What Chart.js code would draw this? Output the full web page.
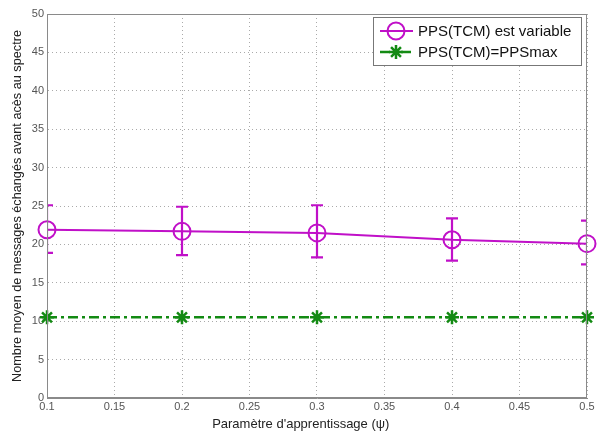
<!DOCTYPE html>
<html lang="fr">
<head>
<meta charset="UTF-8">
<title>Nombre moyen de messages</title>
<script src="https://cdn.jsdelivr.net/npm/chart.js@4.4.1/dist/chart.umd.min.js"></script>
<style>
  body { margin: 0; background: #fff; }
</style>
</head>
<body>
<canvas id="c" width="598" height="444"></canvas>
<script>
// données
const psi = [0.1, 0.2, 0.3, 0.4, 0.5];
const ppsVariable = [21.9, 21.7, 21.5, 20.6, 20.1];
const errHaut = [25.1, 24.9, 25.1, 23.4, 23.1];
const errBas = [18.9, 18.6, 18.3, 17.9, 17.4];
const ppsMax = [10.5, 10.5, 10.5, 10.5, 10.5];
const ticksX = [0.1, 0.15, 0.2, 0.25, 0.3, 0.35, 0.4, 0.45, 0.5];
const ticksY = [0, 5, 10, 15, 20, 25, 30, 35, 40, 45, 50];
const legendes = ['PPS(TCM) est variable', 'PPS(TCM)=PPSmax'];

const violet = '#c010c8';
const vert = '#138a13';
const tiretPoint = [10, 4, 3, 4];
const police = '"Liberation Sans", Arial, sans-serif';

// barres d'erreur, dessinées avec les échelles du graphique
const errorBars = {
  id: 'errorBars',
  beforeDatasetsDraw(chart) {
    const ctx = chart.ctx, xs = chart.scales.x, ys = chart.scales.y, a = chart.chartArea;
    ctx.save();
    ctx.beginPath();
    ctx.rect(a.left, a.top, a.right - a.left, a.bottom - a.top);
    ctx.clip();
    ctx.strokeStyle = violet;
    ctx.lineWidth = 2.2;
    psi.forEach((v, i) => {
      const x = xs.getPixelForValue(v);
      const yh = ys.getPixelForValue(errHaut[i]);
      const yb = ys.getPixelForValue(errBas[i]);
      ctx.beginPath();
      ctx.moveTo(x, yh); ctx.lineTo(x, yb);
      ctx.moveTo(x - 6, yh); ctx.lineTo(x + 6, yh);
      ctx.moveTo(x - 6, yb); ctx.lineTo(x + 6, yb);
      ctx.stroke();
    });
    ctx.restore();
  }
};

// cadre (haut et droite) + légende façon matlab
const cadre = {
  id: 'cadre',
  afterDraw(chart) {
    const ctx = chart.ctx, a = chart.chartArea;
    ctx.save();
    ctx.strokeStyle = '#8a8a8a';
    ctx.lineWidth = 1;
    ctx.strokeRect(a.left + 0.5, a.top + 0.5, a.right - a.left - 1, a.bottom - a.top - 1);

    // légende
    const lx = 373, ly = 17, lw = 208, lh = 48;
    ctx.fillStyle = '#fff';
    ctx.fillRect(lx, ly, lw, lh);
    ctx.strokeStyle = '#777';
    ctx.strokeRect(lx + 0.5, ly + 0.5, lw, lh);

    const ds = chart.data.datasets;
    [0, 1].forEach(i => {
      const y = ly + 14 + i * 21;
      ctx.save();
      ctx.strokeStyle = ds[i].borderColor;
      ctx.lineWidth = ds[i].borderWidth;
      ctx.setLineDash(ds[i].borderDash || []);
      ctx.beginPath();
      ctx.moveTo(lx + 7, y); ctx.lineTo(lx + 40, y);
      ctx.stroke();
      ctx.setLineDash([]);
      ctx.lineWidth = ds[i].pointBorderWidth;
      ctx.fillStyle = ds[i].pointBackgroundColor;
      Chart.helpers.drawPoint(ctx, {
        pointStyle: ds[i].pointStyle,
        radius: ds[i].pointRadius,
        borderWidth: ds[i].pointBorderWidth,
        rotation: 0
      }, lx + 23, y);
      ctx.restore();
      ctx.fillStyle = '#111';
      ctx.font = '15px ' + police;
      ctx.textBaseline = 'middle';
      ctx.fillText(legendes[i], lx + 45, y + 1);
    });
    ctx.restore();
  }
};

new Chart(document.getElementById('c'), {
  type: 'line',
  data: {
    datasets: [
      {
        label: legendes[0],
        data: psi.map((x, i) => ({ x: x, y: ppsVariable[i] })),
        borderColor: violet,
        borderWidth: 2,
        pointStyle: 'circle',
        pointRadius: 8.5,
        pointBorderWidth: 2,
        pointBorderColor: violet,
        pointBackgroundColor: 'rgba(0,0,0,0)',
        clip: false
      },
      {
        label: legendes[1],
        data: psi.map((x, i) => ({ x: x, y: ppsMax[i] })),
        borderColor: vert,
        borderWidth: 2.5,
        borderDash: tiretPoint,
        pointStyle: 'star',
        pointRadius: 7,
        pointBorderWidth: 2.5,
        pointBorderColor: vert,
        pointBackgroundColor: vert,
        clip: false
      }
    ]
  },
  options: {
    responsive: false,
    devicePixelRatio: 1,
    animation: false,
    layout: { padding: { top: 14, right: 11, left: 0, bottom: 0 } },
    plugins: { legend: { display: false }, tooltip: { enabled: false } },
    scales: {
      x: {
        type: 'linear',
        min: 0.1,
        max: 0.5,
        afterBuildTicks: s => { s.ticks = ticksX.map(v => ({ value: v })); },
        afterFit: s => { s.height = 46; },
        ticks: {
          color: '#555',
          font: { family: police, size: 11 },
          padding: 2,
          maxRotation: 0,
          autoSkip: false,
          callback: v => String(+v.toFixed(2))
        },
        grid: { color: '#aaa', drawTicks: false },
        border: { color: '#8a8a8a', dash: [1, 3] },
        title: {
          display: true,
          text: "Paramètre d'apprentissage (ψ)\u00a0\u00a0\u00a0\u00a0\u00a0\u00a0\u00a0\u00a0\u00a0",
          color: '#222',
          font: { family: police, size: 13 },
          padding: { top: 12, bottom: 12 }
        }
      },
      y: {
        type: 'linear',
        min: 0,
        max: 50,
        afterBuildTicks: s => { s.ticks = ticksY.map(v => ({ value: v })); },
        afterFit: s => { s.width = 47; },
        ticks: {
          color: '#555',
          font: { family: police, size: 11 },
          padding: 3
        },
        grid: { color: '#aaa', drawTicks: false },
        border: { color: '#8a8a8a', dash: [1, 3] },
        title: {
          display: true,
          text: 'Nombre moyen de messages échangés avant acès au spectre',
          color: '#222',
          font: { family: police, size: 12.7 },
          padding: { top: 10, bottom: 10 }
        }
      }
    }
  },
  plugins: [errorBars, cadre]
});
</script>
</body>
</html>
